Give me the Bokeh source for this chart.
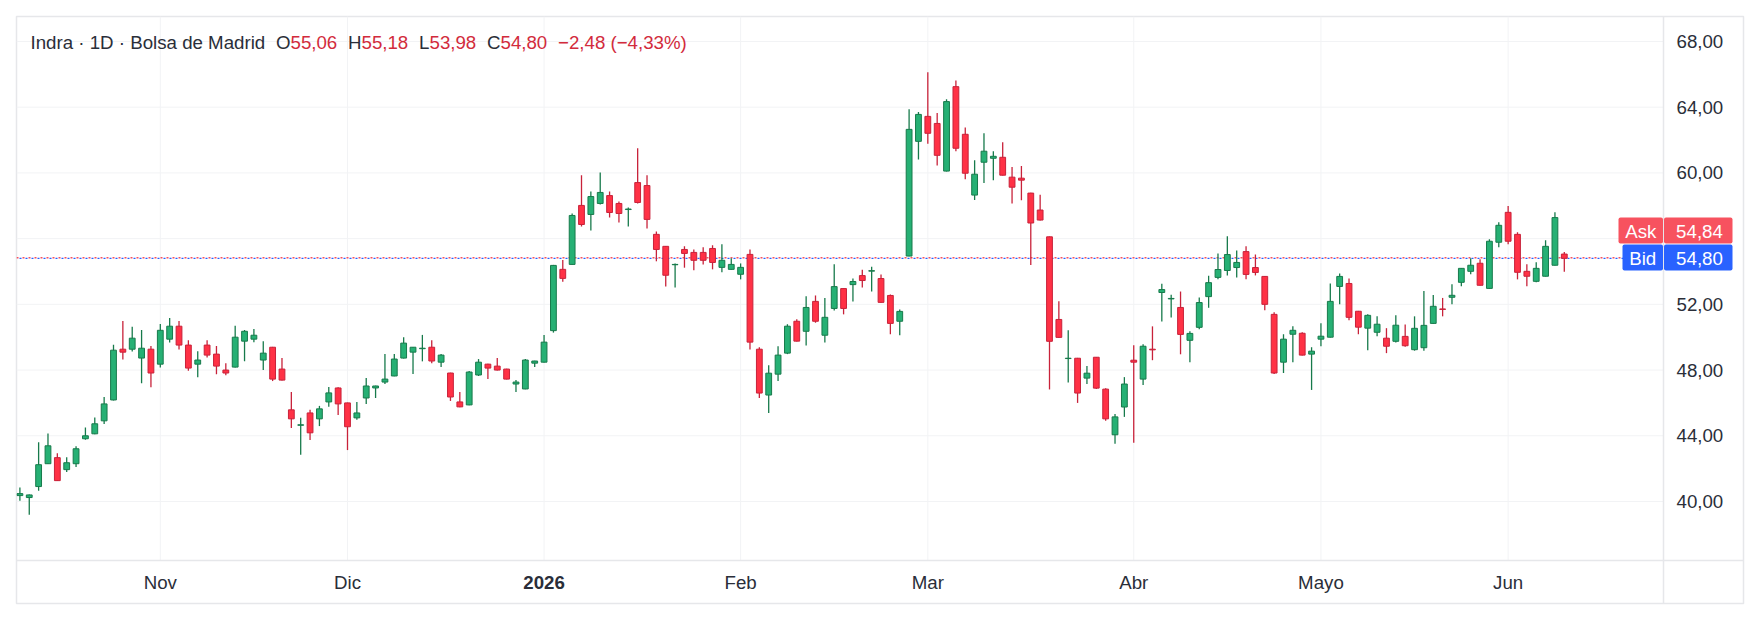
from bokeh.plotting import figure
from bokeh.models import Range1d, Span, Label, BoxAnnotation, ColumnDataSource
from bokeh.embed import file_html
from bokeh.resources import INLINE

# ---------------- data ----------------
opens = [40.36, 40.24, 40.91, 42.30, 42.67, 41.94, 42.30, 43.82, 44.12, 44.91,
         46.18, 49.27, 49.27, 48.73, 49.27, 48.36, 49.88, 50.67, 49.52, 48.36,
         49.52, 48.97, 48.00, 48.18, 49.76, 49.88, 48.61, 49.39, 48.06, 45.58,
         44.64, 45.39, 45.03, 46.06, 46.91, 46.00, 45.09, 46.30, 46.91, 47.27,
         47.64, 48.73, 49.09, 49.30, 49.39, 48.48, 47.82, 46.06, 45.88, 47.70,
         48.36, 48.24, 48.06, 47.15, 46.85, 48.42, 48.48, 50.40, 54.13, 54.43,
         58.02, 57.47, 58.14, 58.62, 58.14, 57.77, 59.41, 59.23, 56.26, 55.53,
         54.41, 55.34, 55.16, 55.16, 55.40, 54.25, 54.13, 53.83, 55.04, 49.27,
         46.48, 47.75, 49.03, 50.97, 50.36, 52.18, 50.12, 51.75, 52.96, 53.20,
         53.75, 54.02, 53.57, 52.54, 50.97, 54.94, 61.92, 63.44, 63.01, 60.11,
         65.25, 62.35, 58.65, 60.65, 60.89, 60.95, 59.74, 59.68, 58.77, 57.74,
         56.11, 51.08, 48.70, 48.72, 47.51, 48.78, 46.84, 44.06, 45.75, 48.60,
         47.45, 49.27, 52.72, 52.33, 51.81, 49.81, 50.60, 52.47, 53.64, 54.06,
         54.24, 55.21, 54.24, 53.70, 51.39, 48.48, 50.18, 50.24, 48.97, 49.88,
         50.00, 53.09, 53.27, 51.58, 50.55, 50.30, 49.94, 49.75, 50.05, 49.24,
         49.36, 50.84, 51.72, 52.43, 53.34, 54.01, 54.50, 52.97, 55.78, 57.60,
         56.26, 54.01, 53.40, 53.71, 54.38, 55.06]
highs = [40.85, 40.42, 43.60, 44.14, 42.93, 42.69, 43.37, 44.51, 45.11, 46.36,
         49.54, 50.99, 50.63, 50.44, 49.47, 50.81, 51.17, 50.99, 49.82, 49.15,
         49.82, 49.47, 48.42, 50.69, 50.44, 50.50, 49.76, 49.41, 48.73, 46.67,
         45.09, 45.58, 45.82, 46.97, 46.95, 46.02, 46.06, 47.52, 47.05, 48.97,
         48.97, 50.00, 49.41, 50.14, 49.82, 48.97, 47.84, 46.67, 47.94, 48.67,
         48.38, 48.73, 48.08, 47.39, 48.67, 48.57, 50.14, 54.40, 54.70, 57.53,
         59.86, 58.87, 60.02, 58.87, 58.26, 57.89, 61.50, 59.86, 56.44, 55.55,
         54.49, 55.53, 55.34, 55.47, 55.59, 55.65, 54.80, 54.49, 55.34, 49.39,
         48.30, 49.45, 50.79, 51.09, 52.50, 52.54, 52.38, 54.44, 52.98, 53.57,
         54.11, 54.29, 53.81, 52.60, 51.69, 63.88, 63.70, 66.12, 63.64, 64.48,
         65.63, 62.77, 60.77, 62.41, 61.32, 61.86, 60.36, 60.42, 58.79, 58.67,
         56.13, 52.19, 50.42, 48.74, 48.24, 48.80, 46.90, 45.33, 47.57, 49.51,
         49.57, 50.66, 53.26, 52.59, 52.78, 50.36, 52.41, 53.74, 55.09, 56.14,
         55.27, 55.54, 55.03, 53.72, 51.52, 50.18, 50.67, 50.30, 49.39, 50.85,
         53.27, 53.88, 53.58, 51.60, 51.39, 51.27, 50.55, 51.33, 50.78, 51.27,
         52.81, 52.57, 52.39, 53.22, 54.20, 54.80, 54.74, 55.96, 56.99, 57.99,
         56.39, 54.44, 54.56, 55.90, 57.60, 55.18]
lows = [40.04, 39.19, 40.65, 42.28, 41.25, 41.80, 42.10, 43.76, 44.10, 44.71,
        46.15, 48.65, 49.13, 47.19, 46.95, 48.16, 49.68, 49.25, 47.96, 47.56,
        48.77, 47.74, 47.68, 48.16, 48.53, 49.70, 48.00, 47.33, 47.37, 44.48,
        42.85, 43.74, 44.59, 45.76, 45.27, 43.13, 44.97, 45.94, 46.30, 47.15,
        47.62, 48.70, 47.76, 48.53, 48.42, 48.18, 46.12, 45.74, 45.86, 47.64,
        47.45, 47.98, 47.43, 46.67, 46.83, 48.18, 48.46, 50.28, 53.38, 54.41,
        56.74, 56.50, 58.08, 57.29, 56.98, 56.74, 58.14, 56.62, 54.62, 53.08,
        53.02, 54.23, 54.07, 54.43, 54.13, 53.95, 54.10, 53.52, 49.25, 46.30,
        45.38, 47.33, 48.97, 49.74, 49.49, 50.88, 49.67, 51.63, 51.39, 52.18,
        53.02, 52.78, 52.10, 50.18, 50.12, 54.92, 60.81, 61.78, 60.45, 60.09,
        61.32, 59.62, 58.35, 59.38, 59.56, 59.84, 58.14, 58.33, 54.39, 57.10,
        46.82, 49.97, 47.25, 46.00, 47.15, 46.84, 44.91, 43.51, 45.15, 43.58,
        47.09, 48.60, 50.96, 51.20, 48.96, 48.48, 50.48, 51.79, 53.52, 53.76,
        53.64, 53.52, 53.76, 51.64, 47.76, 47.82, 48.48, 48.89, 46.79, 49.45,
        49.98, 52.00, 51.03, 50.18, 49.21, 50.06, 49.03, 49.68, 49.42, 49.18,
        49.18, 50.82, 51.27, 52.00, 53.10, 53.83, 53.14, 52.95, 55.47, 55.65,
        53.52, 53.10, 53.34, 53.70, 54.36, 53.98]
closes = [40.48, 40.40, 42.24, 43.39, 41.27, 42.36, 43.21, 44.00, 44.73, 45.94,
          49.21, 49.09, 49.94, 49.33, 47.82, 50.42, 50.67, 49.52, 48.12, 48.61,
          48.91, 48.24, 47.82, 50.00, 50.36, 50.12, 49.03, 47.45, 47.39, 45.03,
          44.67, 44.18, 45.64, 46.61, 45.94, 44.55, 45.39, 47.03, 47.03, 47.45,
          48.67, 49.64, 49.39, 49.33, 48.55, 48.91, 46.36, 45.76, 47.88, 48.48,
          48.12, 48.00, 47.45, 47.27, 48.61, 48.55, 49.70, 54.37, 53.58, 57.41,
          56.86, 58.56, 58.81, 57.59, 57.53, 57.80, 58.20, 57.17, 55.34, 53.77,
          54.43, 55.10, 54.68, 54.68, 54.55, 54.68, 54.43, 54.25, 49.70, 46.60,
          47.81, 48.91, 50.67, 49.76, 51.81, 50.97, 51.21, 53.08, 51.75, 53.39,
          53.45, 54.05, 52.12, 50.84, 51.57, 62.65, 63.56, 62.41, 61.07, 64.34,
          61.50, 59.98, 59.92, 61.32, 61.01, 59.86, 59.13, 59.56, 56.95, 57.13,
          49.75, 49.99, 48.72, 46.60, 47.81, 46.90, 45.03, 45.15, 47.15, 48.48,
          49.45, 49.23, 52.90, 52.36, 50.17, 50.23, 52.11, 53.32, 54.12, 55.03,
          54.55, 53.82, 53.94, 52.00, 47.82, 49.88, 50.42, 48.91, 49.15, 50.06,
          52.18, 53.70, 51.21, 50.61, 51.33, 50.79, 49.45, 50.73, 49.48, 50.54,
          50.72, 51.88, 51.69, 52.55, 54.19, 54.38, 53.16, 55.84, 56.81, 55.84,
          53.95, 53.71, 54.19, 55.53, 57.28, 54.80]

month_idx = [15, 35, 56, 77, 97, 119, 139, 159]
month_labels = ["Nov", "Dic", "2026", "Feb", "Mar", "Abr", "Mayo", "Jun"]
price_ticks = [40, 44, 48, 52, 56, 60, 64, 68]
ask_price = 54.84
bid_price = 54.80
header_title = "Indra \u00b7 1D \u00b7 Bolsa de Madrid"
header_change = "\u22122,48 (\u22124,33%)"

# ---------------- styles / layout ----------------
FONT = "Liberation Sans"
FS = "18.7px"
UP_FILL, UP_LINE = "#26b074", "#177a4b"
DN_FILL, DN_LINE = "#ff3145", "#c8223a"
TXT = "#2a2e39"
RED_TXT = "#d22b3c"
BORDER = "#e6e7ea"
GRID = "#f2f3f5"
ASK_COL, BID_COL = "#f7525f", "#2962ff"

# canvas geometry: outer box 16..1743 x 16..603, price pane 16..1663 x 16..560
BOX_L, BOX_T, BOX_R, BOX_B = 16, 16, 1743, 603
PANE_R, PANE_B = 1663, 560
BAR0, BAR_STEP = 19.4, 9.36           # x of first bar, px per bar
Y40, PX_PER_UNIT = 501.0, 16.43       # y of price 40, px per price unit

def ix(px):   # canvas x -> bar index
    return (px - BAR0) / BAR_STEP

def iv(py):   # canvas y -> price
    return 40 + (Y40 - py) / PX_PER_UNIT

def fmt(v):
    return f"{v:.2f}".replace(".", ",")

n = len(opens)
idx = list(range(n))
up = [c >= o for o, c in zip(opens, closes)]
src = ColumnDataSource(dict(
    x=idx, o=opens, h=highs, l=lows, c=closes,
    top=[max(o, c) for o, c in zip(opens, closes)],
    bot=[min(o, c) for o, c in zip(opens, closes)],
    fill=[UP_FILL if u else DN_FILL for u in up],
    line=[UP_LINE if u else DN_LINE for u in up],
))

p = figure(width=1760, height=620, output_backend="svg", toolbar_location=None,
           frame_width=BOX_R - BOX_L, frame_height=BOX_B - BOX_T,
           min_border_left=BOX_L, min_border_top=BOX_T,
           min_border_right=1760 - BOX_R, min_border_bottom=620 - BOX_B,
           x_range=Range1d(ix(BOX_L), ix(BOX_R)), y_range=Range1d(iv(BOX_B), iv(BOX_T)),
           x_axis_location=None, y_axis_location=None)
p.background_fill_color = "white"
p.border_fill_color = "white"
p.outline_line_color = BORDER
p.outline_line_width = 1.5
p.grid.visible = False

x_left, x_pane = ix(BOX_L), ix(PANE_R)
y_pane_bot, y_top = iv(PANE_B), iv(BOX_T)

# grid lines (price pane only)
p.segment(x0=[x_left] * len(price_ticks), x1=[x_pane] * len(price_ticks),
          y0=price_ticks, y1=price_ticks, line_color=GRID, line_width=1)
p.segment(x0=month_idx, x1=month_idx, y0=[y_pane_bot] * len(month_idx),
          y1=[y_top] * len(month_idx), line_color=GRID, line_width=1)

# separators
p.add_layout(Span(location=x_pane, dimension="height", line_color=BORDER, line_width=1.5))
p.add_layout(Span(location=y_pane_bot, dimension="width", line_color=BORDER, line_width=1.5))

# price lines (dotted: ask red, bid blue, interleaved with small gaps)
p.segment(x0=[x_left], x1=[x_pane], y0=[ask_price], y1=[ask_price],
          line_color=ASK_COL, line_width=1.4, line_dash="2 4")
p.segment(x0=[x_left], x1=[x_pane], y0=[bid_price], y1=[bid_price],
          line_color=BID_COL, line_width=1.4, line_dash="2 4", line_dash_offset=3)

# candles
p.segment(x0="x", y0="l", x1="x", y1="h", source=src, line_color="line", line_width=1.3)
p.vbar(x="x", top="top", bottom="bot", width=0.62, source=src,
       fill_color="fill", line_color="line", line_width=1)

# price axis labels
for t in price_ticks:
    if t == 56:
        continue  # hidden behind the Ask/Bid badges
    p.add_layout(Label(x=1676, x_units="canvas", y=t, y_units="data", text=fmt(t),
                       text_align="left", text_baseline="middle", text_color=TXT,
                       text_font=FONT, text_font_size=FS))

# time axis labels
for i, lab in zip(month_idx, month_labels):
    p.add_layout(Label(x=i, x_units="data", y=582, y_units="canvas", text=lab,
                       text_align="center", text_baseline="middle", text_color=TXT,
                       text_font=FONT, text_font_size=FS,
                       text_font_style="bold" if lab == "2026" else "normal"))

# Ask / Bid badges
for (lab, val, col, lab_l, top, bot) in [("Ask", ask_price, ASK_COL, 1618, 217, 243),
                                          ("Bid", bid_price, BID_COL, 1622, 244, 270)]:
    for (l, r) in [(lab_l, 1662.5), (1663.5, 1732)]:
        p.add_layout(BoxAnnotation(left=l, right=r, top=top, bottom=bot,
                                   left_units="canvas", right_units="canvas",
                                   top_units="canvas", bottom_units="canvas",
                                   fill_color=col, fill_alpha=1, line_color=None,
                                   border_radius=2))
    p.add_layout(Label(x=(lab_l + 1662.5) / 2, y=(top + bot) / 2 + 0.5,
                       x_units="canvas", y_units="canvas", text=lab,
                       text_align="center", text_baseline="middle", text_color="white",
                       text_font=FONT, text_font_size=FS))
    p.add_layout(Label(x=1699, y=(top + bot) / 2 + 0.5, x_units="canvas", y_units="canvas",
                       text=fmt(val), text_align="center", text_baseline="middle",
                       text_color="white", text_font=FONT, text_font_size=FS))

# header legend
last = n - 1
parts = [(30, header_title, TXT),
         (275.5, "O", TXT), (290, fmt(opens[last]), RED_TXT),
         (347.5, "H", TXT), (361, fmt(highs[last]), RED_TXT),
         (418.5, "L", TXT), (429, fmt(lows[last]), RED_TXT),
         (486.5, "C", TXT), (500, fmt(closes[last]), RED_TXT),
         (557.5, header_change, RED_TXT)]
for (xx, t, col) in parts:
    p.add_layout(Label(x=xx, y=42, x_units="canvas", y_units="canvas", text=t,
                       text_align="left", text_baseline="middle", text_color=col,
                       text_font=FONT, text_font_size=FS))

open("out.html", "w").write(file_html(p, INLINE))
